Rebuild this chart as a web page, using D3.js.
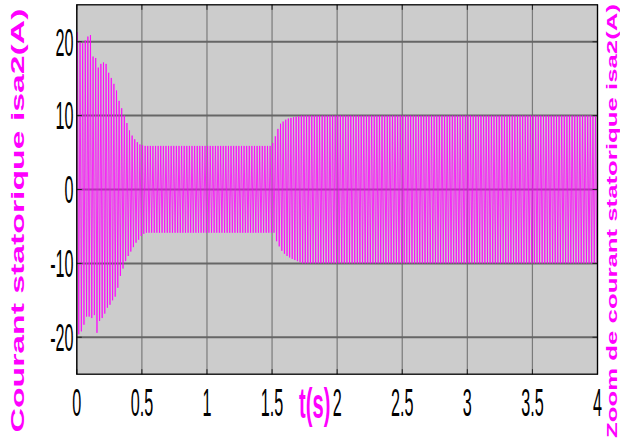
<!DOCTYPE html>
<html><head><meta charset="utf-8">
<script src="https://cdn.jsdelivr.net/npm/d3@7"></script>
<style>body{margin:0;background:#fff}svg{display:block}</style></head>
<body><svg id="c" width="620" height="443"></svg>
<script>
const xTicks=[0,0.5,1,1.5,2,2.5,3,3.5,4];
const xTickLabels=["0","0.5","1","1.5","2","2.5","3","3.5","4"];
const yTicks=[-20,-10,0,10,20];
const yTickLabels=["-20","-10","0","10","20"];
const xLabel="t(s)";
const yLabel="Courant statorique isa2(A)";
const rightLabel="Zoom de courant statorique isa2(A)";
const period=0.02; // one cycle of the 50 Hz current
// positive and negative peak of each cycle (A)
const upperPeaks=[
21.3,20.0,19.8,20.2,20.7,20.9,18.0,17.8,16.5,17.0,
17.2,17.0,15.8,15.1,14.3,13.4,12.0,11.0,10.0,9.0,
8.0,7.3,6.8,6.4,6.1,6.0,5.9,5.9,5.9,5.9,
5.9,5.9,5.9,5.9,5.9,5.9,5.9,5.9,5.9,5.9,
5.9,5.9,5.9,5.9,5.9,5.9,5.9,5.9,5.9,5.9,
5.9,5.9,5.9,5.9,5.9,5.9,5.9,5.9,5.9,5.9,
5.9,5.9,5.9,5.9,5.9,5.9,5.9,5.9,5.9,5.9,
5.9,5.9,5.9,5.9,5.9,6.3,7.2,8.2,8.9,9.2,
9.45,9.6,9.7,9.8,9.85,9.9,10,10,10,10,
10,10,10,10,10,10,10,10,10,10,
10,10,10,10,10,10,10,10,10,10,
10,10,10,10,10,10,10,10,10,10,
10,10,10,10,10,10,10,10,10,10,
10,10,10,10,10,10,10,10,10,10,
10,10,10,10,10,10,10,10,10,10,
10,10,10,10,10,10,10,10,10,10,
10,10,10,10,10,10,10,10,10,10,
10,10,10,10,10,10,10,10,10,10,
10,10,10,10,10,10,10,10,10,10,
10,10,10,10,10,10,10,10,10,10];
const lowerPeaks=[
-19.6,-19.2,-18.3,-17.2,-17.2,-17.4,-17.0,-19.4,-17.8,-17.4,
-16.8,-16.0,-15.6,-15.0,-14.5,-13.3,-11.7,-10.7,-9.7,-9.0,
-8.4,-7.8,-7.2,-6.8,-6.3,-6.0,-5.85,-5.85,-5.85,-5.85,
-5.85,-5.85,-5.85,-5.85,-5.85,-5.85,-5.85,-5.85,-5.85,-5.85,
-5.85,-5.85,-5.85,-5.85,-5.85,-5.85,-5.85,-5.85,-5.85,-5.85,
-5.85,-5.85,-5.85,-5.85,-5.85,-5.85,-5.85,-5.85,-5.85,-5.85,
-5.85,-5.85,-5.85,-5.85,-5.85,-5.85,-5.85,-5.85,-5.85,-5.85,
-5.85,-5.85,-5.85,-5.85,-5.85,-5.85,-7.0,-7.7,-8.3,-8.7,
-9.0,-9.2,-9.4,-9.55,-9.7,-9.85,-10,-10,-10,-10,
-10,-10,-10,-10,-10,-10,-10,-10,-10,-10,
-10,-10,-10,-10,-10,-10,-10,-10,-10,-10,
-10,-10,-10,-10,-10,-10,-10,-10,-10,-10,
-10,-10,-10,-10,-10,-10,-10,-10,-10,-10,
-10,-10,-10,-10,-10,-10,-10,-10,-10,-10,
-10,-10,-10,-10,-10,-10,-10,-10,-10,-10,
-10,-10,-10,-10,-10,-10,-10,-10,-10,-10,
-10,-10,-10,-10,-10,-10,-10,-10,-10,-10,
-10,-10,-10,-10,-10,-10,-10,-10,-10,-10,
-10,-10,-10,-10,-10,-10,-10,-10,-10,-10,
-10,-10,-10,-10,-10,-10,-10,-10,-10,-10];

const svg=d3.select("#c");
const L=76.8,R=597.5,T=4.8,B=374.2;
const x=d3.scaleLinear().domain([0,4]).range([L,R]);
const y=d3.scaleLinear().domain([-25,25]).range([B,T]);

svg.append("defs").append("clipPath").attr("id","clip")
  .append("rect").attr("x",L).attr("y",T).attr("width",R-L).attr("height",B-T);

svg.append("rect").attr("x",L).attr("y",T).attr("width",R-L).attr("height",B-T).attr("fill","#cccccc");

// grid
svg.append("g").selectAll("line").data(xTicks).join("line")
  .attr("x1",d=>x(d)).attr("x2",d=>x(d)).attr("y1",T).attr("y2",B)
  .attr("stroke","#7a7a7a").attr("stroke-width",1.2);
svg.append("g").selectAll("line").data(yTicks).join("line")
  .attr("x1",L).attr("x2",R).attr("y1",d=>y(d)).attr("y2",d=>y(d))
  .attr("stroke","#666").attr("stroke-width",2);

// signal
const pts=[];
upperPeaks.forEach((u,k)=>{
  pts.push([k*period+period/4,u]);
  pts.push([k*period+3*period/4,lowerPeaks[k]]);
});
const line=d3.line().x(d=>x(d[0])).y(d=>y(d[1]));
svg.append("path").attr("clip-path","url(#clip)").attr("d",line(pts))
  .attr("fill","none").attr("stroke","#ff00ff").attr("stroke-width",0.8);

// ticks (inward, all four sides)
const tk=svg.append("g").attr("stroke","#222").attr("stroke-width",1);
xTicks.forEach(d=>{
  tk.append("line").attr("x1",x(d)).attr("x2",x(d)).attr("y1",B).attr("y2",B-5);
  tk.append("line").attr("x1",x(d)).attr("x2",x(d)).attr("y1",T).attr("y2",T+5);
});
yTicks.forEach(d=>{
  tk.append("line").attr("x1",L).attr("x2",L+5).attr("y1",y(d)).attr("y2",y(d));
  tk.append("line").attr("x1",R).attr("x2",R-5).attr("y1",y(d)).attr("y2",y(d));
});
svg.append("rect").attr("x",L).attr("y",T).attr("width",R-L).attr("height",B-T)
  .attr("fill","none").attr("stroke","#000").attr("stroke-width",1.3);

// tick labels
const FS=38.5, SX=0.42;
svg.append("g").selectAll("text").data(xTicks).join("text")
  .attr("transform",d=>`translate(${x(d)},416) scale(${SX},1)`)
  .attr("text-anchor","middle").attr("font-family","Liberation Sans, Arial, sans-serif")
  .attr("font-size",FS).attr("fill","#000").text((d,i)=>xTickLabels[i]);
svg.append("g").selectAll("text").data(yTicks).join("text")
  .attr("transform",d=>`translate(73.5,${y(d)+13.8}) scale(${SX},1)`)
  .attr("text-anchor","end").attr("font-family","Liberation Sans, Arial, sans-serif")
  .attr("font-size",FS).attr("fill","#000").text((d,i)=>yTickLabels[i]);

// axis labels
svg.append("text").attr("transform","translate(299,418) scale(0.48,1)")
  .attr("font-family","Liberation Sans, Arial, sans-serif").attr("font-weight","bold")
  .attr("font-size",42).attr("fill","#ff00ff").text(xLabel);
svg.append("text").attr("transform","translate(23.5,220.5) rotate(-90)")
  .attr("text-anchor","middle").attr("font-family","Liberation Sans, Arial, sans-serif")
  .attr("font-weight","bold").attr("font-size",18).attr("fill","#ff00ff")
  .attr("textLength",424).attr("lengthAdjust","spacingAndGlyphs").text(yLabel);
svg.append("text").attr("transform","translate(616.5,221) rotate(-90)")
  .attr("text-anchor","middle").attr("font-family","Liberation Sans, Arial, sans-serif")
  .attr("font-weight","bold").attr("font-size",15.5).attr("fill","#ff00ff")
  .attr("textLength",434).attr("lengthAdjust","spacingAndGlyphs").text(rightLabel);
</script></body></html>
